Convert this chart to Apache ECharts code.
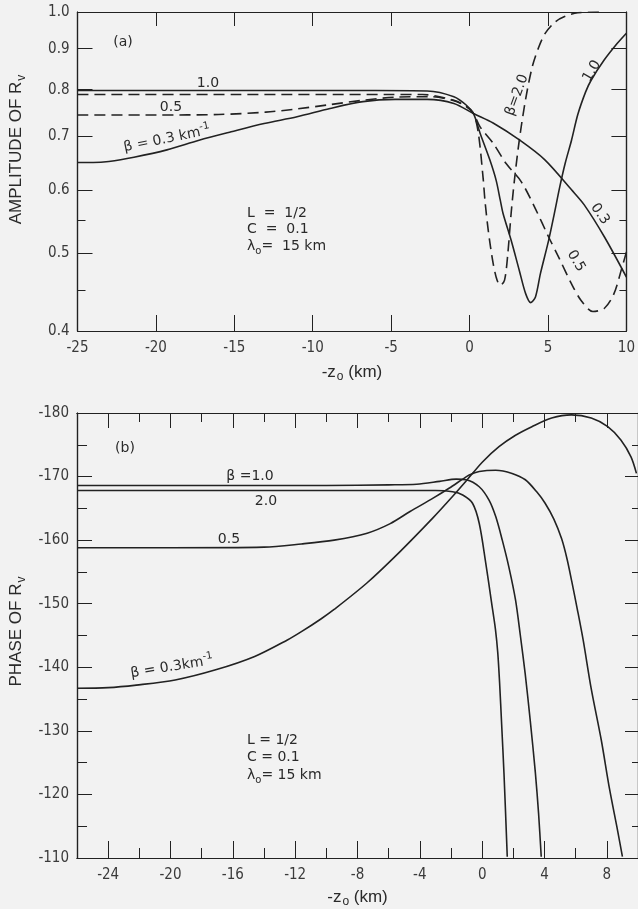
<!DOCTYPE html>
<html>
<head>
<meta charset="utf-8">
<script src="https://cdn.jsdelivr.net/npm/echarts@6/dist/echarts.min.js"></script>
<style>
html,body{margin:0;padding:0;background:#f2f2f2;}
#c{width:638px;height:909px;}
</style>
</head>
<body>
<div id="c"></div>
<script>
// ---------- Panel (a): amplitude of Rv ----------
const ampXTicks = [-25, -20, -15, -10, -5, 0, 5, 10];
const ampYLabels = [0.4, 0.5, 0.6, 0.7, 0.8, 0.9, 1.0];
const ampYMajor = [0.5, 0.6, 0.7, 0.8, 0.9];
const ampYMinor = [0.45, 0.55];

const amp_b03 = [[-25,0.649],[-24,0.649],[-23,0.651],[-21.4,0.659],[-19.3,0.673],[-17.25,0.692],[-15.2,0.709],[-13.1,0.726],[-11,0.740],[-8.9,0.758],[-6.8,0.773],[-4.75,0.778],[-2.7,0.778],[-1.0,0.769],[0.25,0.747],[1.5,0.727],[3.2,0.692],[4.8,0.654],[6.5,0.600],[7.3,0.575],[8.6,0.524],[10,0.467]];
const amp_b05 = [[-25,0.744],[-20,0.744],[-16,0.745],[-13,0.750],[-11,0.757],[-9,0.766],[-6.8,0.776],[-4.75,0.783],[-2.5,0.784],[-1.0,0.775],[-0.2,0.762],[0.25,0.747],[0.67,0.719],[1.5,0.686],[2.33,0.647],[3.3,0.614],[4.2,0.568],[5.04,0.524],[5.67,0.495],[6.5,0.458],[7.1,0.437],[7.86,0.423],[8.6,0.427],[9.2,0.445],[9.73,0.481],[10,0.502]];
const amp_b10 = [[-25,0.798],[-15,0.798],[-6,0.798],[-2.7,0.797],[-1.0,0.784],[-0.2,0.765],[0.25,0.747],[0.67,0.706],[1.29,0.654],[1.69,0.617],[1.96,0.582],[2.13,0.561],[2.65,0.519],[3.17,0.476],[3.58,0.445],[3.9,0.434],[4.2,0.441],[4.52,0.472],[5.04,0.519],[5.4,0.56],[5.75,0.605],[6.1,0.648],[6.5,0.692],[6.9,0.745],[7.4,0.795],[7.75,0.822],[8.58,0.871],[9.42,0.914],[10,0.941]];
const amp_b20 = [[-25,0.789],[-15,0.789],[-5,0.789],[-3,0.789],[-1.0,0.776],[-0.2,0.762],[0.25,0.747],[0.56,0.706],[0.875,0.617],[0.98,0.582],[1.19,0.534],[1.5,0.486],[1.75,0.463],[1.96,0.456],[2.23,0.463],[2.44,0.5],[2.65,0.561],[2.86,0.617],[3.17,0.692],[3.56,0.776],[4.0,0.855],[4.42,0.905],[4.83,0.941],[5.46,0.972],[6.06,0.987],[6.9,0.998],[8.5,1.0]];

// ---------- Panel (b): phase of Rv ----------
const phXMajor = [-24, -20, -16, -12, -8, -4, 0, 4, 8];
const phXMinor = [-22, -18, -14, -10, -6, -2, 2, 6];
const phYLabels = [-180, -170, -160, -150, -140, -130, -120, -110];
const phYMajor = [-170, -160, -150, -140, -130, -120];
const phYMinor = [-175, -165, -155, -145, -135, -125, -115];

const ph_b03 = [[-26,-136.7],[-24,-136.8],[-22.2,-137.2],[-19.7,-138.0],[-17.1,-139.6],[-14.6,-141.7],[-12.5,-144.3],[-11.6,-145.6],[-10.35,-147.6],[-9.5,-149.1],[-7.38,-153.3],[-5.27,-158.2],[-3.16,-163.5],[-1.89,-166.9],[-1.03,-169.3],[0.02,-172.3],[1.08,-174.7],[2.14,-176.5],[3.19,-177.85],[4.46,-179.2],[5.73,-179.7],[7.0,-179.2],[8.06,-177.85],[8.9,-175.75],[9.55,-173.1],[9.9,-170.5]];
const ph_b05 = [[-26,-158.8],[-20,-158.8],[-14,-158.9],[-11.6,-159.4],[-9.5,-160.0],[-7.38,-161.1],[-5.9,-162.6],[-4.63,-164.5],[-3.15,-166.6],[-2.1,-168.2],[-1.25,-169.6],[-0.83,-170.25],[-0.19,-170.8],[0.87,-171.0],[1.92,-170.5],[2.77,-169.5],[3.5,-167.6],[4.04,-165.8],[4.6,-163.3],[5.1,-160.2],[5.45,-157.0],[5.75,-153.5],[6.1,-149.2],[6.48,-144.3],[7.0,-136.6],[7.64,-128.6],[8.17,-120.9],[8.7,-114.2],[9.0,-110.2]];
const ph_b10 = [[-26,-168.6],[-10,-168.6],[-6,-168.7],[-4.2,-168.8],[-2.73,-169.25],[-1.67,-169.6],[-1.03,-169.5],[-0.19,-168.4],[0.44,-166.3],[0.87,-163.7],[1.29,-160.0],[1.71,-155.8],[2.14,-150.6],[2.45,-145.0],[2.76,-139.0],[3.09,-131.5],[3.41,-123.5],[3.62,-117.0],[3.79,-110.2]];
const ph_b20 = [[-26,-167.8],[-10,-167.8],[-3,-167.8],[-1.89,-167.6],[-1.25,-167.1],[-0.62,-165.8],[-0.19,-162.65],[0.23,-156.4],[0.6,-150.2],[0.85,-146.0],[1.0,-142.3],[1.12,-137.5],[1.25,-131.0],[1.4,-123.3],[1.61,-110.2]];

const INK = '#222';
const TXT = '#3a3a3a';
const TICKFONT = '"Liberation Sans Narrow","DejaVu Sans Condensed","Liberation Sans",sans-serif';
const ANNFONT = '"DejaVu Sans",sans-serif';

const chart = echarts.init(document.getElementById('c'), null, {renderer: 'canvas'});

function xAx(grid, pos, min, max, ticks, len, labels, extra) {
  return Object.assign({
    type: 'value', gridIndex: grid, position: pos, min: min, max: max,
    axisLine: {show: true, onZero: false, lineStyle: {color: INK, width: 1.2}},
    axisTick: {show: true, inside: true, length: len, customValues: ticks, lineStyle: {color: INK, width: 1}},
    axisLabel: labels ? {show: true, customValues: labels, color: TXT, fontSize: 15, fontFamily: TICKFONT, margin: 10} : {show: false},
    splitLine: {show: false}
  }, extra || {});
}
function yAx(grid, pos, type, min, max, ticks, len, labels, extra) {
  const o = {
    type: type, gridIndex: grid, position: pos, min: min, max: max,
    axisLine: {show: true, onZero: false, lineStyle: {color: INK, width: 1.2}},
    axisTick: {show: true, inside: true, length: len, customValues: ticks, lineStyle: {color: INK, width: 1}},
    axisLabel: labels ? {show: true, customValues: labels, color: TXT, fontSize: 15, fontFamily: TICKFONT, margin: 8} : {show: false},
    splitLine: {show: false}
  };
  if (type === 'log') o.logBase = 10;
  return Object.assign(o, extra || {});
}

const nameStyle = {
  color: '#2a2a2a', fontSize: 17, fontFamily: '"Liberation Sans","DejaVu Sans",sans-serif',
  rich: {sub: {fontSize: 12, color: '#2a2a2a', fontFamily: '"Liberation Sans",sans-serif', padding: [10, 0, 0, 1]}}
};

const option = {
  backgroundColor: '#f2f2f2',
  animation: false,
  grid: [
    {left: 76, top: 12, width: 559, height: 319},
    {left: 73, top: 413, width: 567, height: 445}
  ],
  xAxis: [
    xAx(0, 'bottom', -25, 10, ampXTicks.slice(1, -1), 16, ampXTicks,
      {name: '-z{sub|o} (km)', nameLocation: 'middle', nameGap: 30, nameTextStyle: nameStyle}),
    xAx(0, 'top', -25, 10, ampXTicks.slice(1, -1), 14, null),
    xAx(1, 'bottom', -26, 10, phXMajor, 17, phXMajor,
      {name: '-z{sub|o} (km)', nameLocation: 'middle', nameGap: 28, nameTextStyle: nameStyle}),
    xAx(1, 'bottom', -26, 10, phXMinor, 10, null),
    xAx(1, 'top', -26, 10, phXMajor, 15, null),
    xAx(1, 'top', -26, 10, phXMinor, 9, null)
  ],
  yAxis: [
    yAx(0, 'left', 'log', 0.4, 1.0, ampYMajor, 15, ampYLabels,
      {name: 'AMPLITUDE OF R{sub|v}', nameLocation: 'middle', nameRotate: 90, nameGap: 50,
       nameTextStyle: Object.assign({}, nameStyle, {padding: [0, 0, 0, 44]}),
       axisLabel: {show: true, customValues: ampYLabels, color: TXT, fontSize: 15, fontFamily: TICKFONT, margin: 8,
                   formatter: v => Number(v).toFixed(1)}}),
    yAx(0, 'left', 'log', 0.4, 1.0, ampYMinor, 8, null),
    yAx(0, 'right', 'log', 0.4, 1.0, ampYMajor, 15, null),
    yAx(0, 'right', 'log', 0.4, 1.0, ampYMinor, 7, null),
    yAx(1, 'left', 'value', -180, -110, phYMajor, 15, phYLabels,
      {inverse: true, name: 'PHASE OF R{sub|v}', nameLocation: 'middle', nameRotate: 90, nameGap: 48,
       nameTextStyle: Object.assign({}, nameStyle, {padding: [0, 0, 0, 8]})}),
    yAx(1, 'left', 'value', -180, -110, phYMinor, 10, null, {inverse: true}),
    yAx(1, 'right', 'value', -180, -110, phYMajor, 13, null, {inverse: true}),
    yAx(1, 'right', 'value', -180, -110, phYMinor, 6, null, {inverse: true})
  ],
  series: [
    {name: 'amp β=0.3', data: amp_b03, dash: 'solid', xi: 0, yi: 0},
    {name: 'amp β=0.5', data: amp_b05, dash: [11, 6], xi: 0, yi: 0},
    {name: 'amp β=1.0', data: amp_b10, dash: 'solid', xi: 0, yi: 0},
    {name: 'amp β=2.0', data: amp_b20, dash: [11, 6], xi: 0, yi: 0},
    {name: 'phase β=0.3', data: ph_b03, dash: 'solid', xi: 2, yi: 4},
    {name: 'phase β=0.5', data: ph_b05, dash: 'solid', xi: 2, yi: 4},
    {name: 'phase β=1.0', data: ph_b10, dash: 'solid', xi: 2, yi: 4},
    {name: 'phase β=2.0', data: ph_b20, dash: 'solid', xi: 2, yi: 4}
  ].map(s => ({
    type: 'line', name: s.name, data: s.data, xAxisIndex: s.xi, yAxisIndex: s.yi,
    showSymbol: false, smooth: 0.3, clip: true,
    lineStyle: {color: INK, width: 1.6, type: s.dash}
  })),
  graphic: []
};

const ann = [
  {x: 123, y: 42, t: '(a)'},
  {x: 208, y: 83, t: '1.0'},
  {x: 171, y: 107, t: '0.5'},
  {x: 167, y: 139, t: 'β = 0.3 km{sup|-1}', r: 0.2},
  {x: 281, y: 213, t: 'L  =  1/2', a: 'left', lx: 247},
  {x: 281, y: 229, t: 'C  =  0.1', a: 'left', lx: 247},
  {x: 281, y: 246, t: 'λ{sub|o}=  15 km', a: 'left', lx: 247},
  {x: 517, y: 95, t: 'β=2.0', r: 1.22},
  {x: 592, y: 71, t: '1.0', r: 1.05},
  {x: 600, y: 214, t: '0.3', r: -0.95},
  {x: 576, y: 261, t: '0.5', r: -1.05},
  {x: 125, y: 448, t: '(b)'},
  {x: 250, y: 476, t: 'β =1.0'},
  {x: 266, y: 501, t: '2.0'},
  {x: 229, y: 539, t: '0.5'},
  {x: 172, y: 667, t: 'β = 0.3km{sup|-1}', r: 0.16},
  {x: 281, y: 740, t: 'L = 1/2', a: 'left', lx: 247},
  {x: 281, y: 757, t: 'C = 0.1', a: 'left', lx: 247},
  {x: 281, y: 775, t: 'λ{sub|o}= 15 km', a: 'left', lx: 247}
];
option.graphic = ann.map(a => ({
  type: 'text',
  x: a.a === 'left' ? a.lx : a.x, y: a.y, rotation: a.r || 0,
  silent: true,
  style: {
    text: a.t, fill: '#2a2a2a', font: '14px ' + ANNFONT,
    align: a.a || 'center', verticalAlign: 'middle',
    rich: {
      sup: {fontSize: 10, fill: '#2a2a2a', padding: [0, 0, 10, 0], fontFamily: ANNFONT},
      sub: {fontSize: 10, fill: '#2a2a2a', padding: [10, 0, 0, 0], fontFamily: ANNFONT}
    }
  }
}));

chart.setOption(option);
</script>
</body>
</html>
